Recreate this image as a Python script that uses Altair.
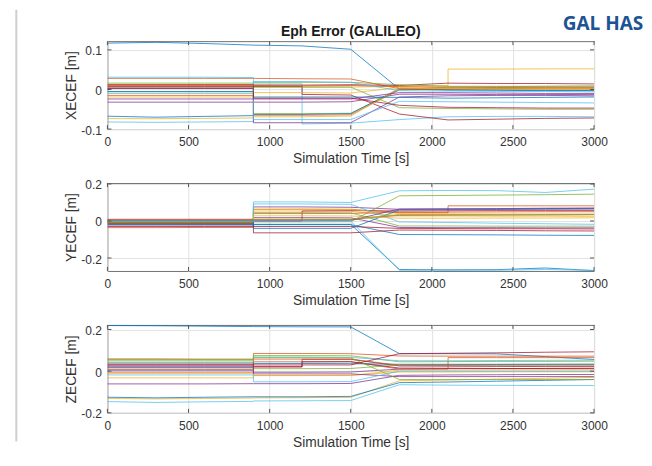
import altair as alt
import pandas as pd

# ---------------- data ----------------
TIMES = [0, 300, 600, 900, 900, 1200, 1200, 1500, 1800, 2100, 2100, 2400, 2700, 3000]
X_TICKS = [0, 500, 1000, 1500, 2000, 2500, 3000]
MATLAB_COLORS = ["#0072BD", "#D95319", "#EDB120", "#7E2F8E", "#77AC30", "#4DBEEE", "#A2142F"]

TITLE = "Eph Error (GALILEO)"
BADGE = "GAL HAS"
X_TITLE = "Simulation Time [s]"

XECEF_TICKS = [-0.1, 0, 0.1]
YECEF_TICKS = [-0.2, 0, 0.2]
ZECEF_TICKS = [-0.2, 0, 0.2]

XECEF = [
    [0.117, 0.119, 0.116, 0.112, 0.112, 0.110, 0.110, 0.1015, 0.001, 0.000, 0.000, -0.001, -0.002, -0.002],
    [0.028, 0.028, 0.028, 0.028, 0.028, 0.027, 0.027, 0.0265, 0.002, 0.003, 0.003, 0.003, 0.002, 0.002],
    [-0.019, -0.019, -0.019, -0.019, 0.006, 0.006, 0.006, 0.006, 0.008, 0.010, 0.0515, 0.0515, 0.052, 0.052],
    [-0.032, -0.032, -0.032, -0.032, -0.032, -0.032, -0.032, -0.031, -0.012, -0.012, -0.012, -0.013, -0.013, -0.0125],
    [0.004, 0.004, 0.004, 0.004, -0.061, -0.061, -0.061, -0.060, 0.000, 0.006, 0.006, 0.007, 0.008, 0.008],
    [-0.082, -0.083, -0.082, -0.081, 0.014, 0.014, -0.087, -0.085, -0.076, -0.069, -0.069, -0.068, -0.068, -0.069],
    [0.0075, 0.0075, 0.0075, 0.0075, 0.0075, 0.0075, -0.0125, -0.014, -0.062, -0.077, -0.077, -0.075, -0.073, -0.072],
    [-0.0675, -0.070, -0.068, -0.066, -0.063, -0.063, -0.063, -0.061, 0.002, -0.002, -0.002, -0.002, -0.003, -0.003],
    [-0.015, -0.015, -0.015, -0.015, -0.065, -0.065, -0.065, -0.064, -0.001, 0.001, 0.001, 0.002, 0.002, 0.002],
    [-0.0735, -0.074, -0.073, -0.072, -0.069, -0.069, -0.069, -0.067, 0.003, 0.004, 0.004, 0.004, 0.003, 0.003],
    [0.003, 0.003, 0.003, 0.003, -0.084, -0.084, -0.084, -0.084, -0.019, -0.016, -0.016, -0.015, -0.015, -0.016],
    [-0.006, -0.006, -0.006, -0.006, 0.006, 0.006, 0.006, 0.006, -0.046, -0.048, -0.048, -0.049, -0.050, -0.050],
    [0.031, 0.031, 0.031, 0.030, -0.076, -0.076, -0.076, -0.076, -0.030, -0.031, -0.031, -0.032, -0.033, -0.034],
    [0.003, 0.003, 0.003, 0.003, 0.011, 0.011, 0.011, 0.012, 0.010, 0.016, 0.016, 0.015, 0.015, 0.014],
    [-0.005, -0.005, -0.005, -0.005, -0.019, -0.019, -0.019, -0.019, -0.020, -0.022, -0.022, -0.021, -0.020, -0.019],
    [0.010, 0.010, 0.010, 0.010, 0.010, 0.009, 0.009, 0.010, 0.007, 0.006, 0.006, 0.005, 0.005, 0.005],
    [0.012, 0.012, 0.012, 0.012, -0.008, -0.008, -0.008, -0.009, 0.005, 0.002, 0.002, 0.001, 0.001, 0.001],
    [-0.024, -0.024, -0.024, -0.024, -0.024, -0.024, -0.024, -0.024, -0.008, -0.008, -0.008, -0.009, -0.010, -0.010],
    [0.016, 0.016, 0.016, 0.016, 0.018, 0.018, 0.018, 0.018, 0.012, 0.008, 0.008, 0.008, 0.008, 0.009],
    [-0.010, -0.010, -0.010, -0.010, 0.020, 0.020, 0.020, 0.018, -0.003, -0.004, -0.004, -0.005, -0.005, -0.006],
    [0.012, 0.012, 0.012, 0.012, -0.022, -0.022, -0.022, -0.022, -0.040, -0.045, -0.045, -0.046, -0.047, -0.047],
]

YECEF = [
    [-0.005, -0.006, -0.006, -0.006, -0.018, -0.018, -0.018, -0.018, -0.262, -0.264, -0.264, -0.263, -0.254, -0.268],
    [-0.036, -0.036, -0.035, -0.035, 0.063, 0.064, 0.064, 0.063, 0.045, 0.045, 0.082, 0.082, 0.082, 0.082],
    [-0.010, -0.010, -0.010, -0.010, 0.054, 0.054, 0.054, 0.052, 0.027, 0.027, 0.027, 0.026, 0.026, 0.025],
    [0.000, 0.000, 0.000, 0.000, 0.076, 0.076, 0.076, 0.074, 0.063, 0.064, 0.064, 0.065, 0.067, 0.068],
    [-0.012, -0.012, -0.012, -0.012, -0.005, -0.005, -0.005, -0.004, 0.136, 0.138, 0.138, 0.140, 0.142, 0.145],
    [-0.020, -0.020, -0.020, -0.020, 0.103, 0.103, 0.103, 0.100, 0.163, 0.165, 0.165, 0.164, 0.154, 0.172],
    [0.009, 0.009, 0.009, 0.009, 0.000, 0.000, 0.054, 0.056, 0.054, 0.055, 0.055, 0.056, 0.056, 0.056],
    [-0.008, -0.008, -0.008, -0.008, -0.020, -0.020, -0.020, -0.020, -0.073, -0.074, -0.074, -0.075, -0.077, -0.078],
    [-0.015, -0.015, -0.015, -0.015, 0.040, 0.040, 0.040, 0.041, 0.048, 0.048, 0.048, 0.049, 0.050, 0.050],
    [-0.012, -0.012, -0.012, -0.012, 0.063, 0.063, 0.063, 0.062, 0.040, 0.039, 0.039, 0.038, 0.038, 0.038],
    [-0.020, -0.020, -0.020, -0.020, 0.018, 0.018, 0.018, 0.017, -0.035, -0.036, -0.036, -0.036, -0.037, -0.037],
    [-0.008, -0.008, -0.008, -0.008, 0.045, 0.045, 0.045, 0.044, -0.027, -0.027, -0.027, -0.028, -0.028, -0.028],
    [-0.025, -0.025, -0.025, -0.025, 0.092, 0.092, 0.092, 0.090, -0.005, -0.008, -0.008, -0.012, -0.015, -0.018],
    [-0.015, -0.015, -0.015, -0.015, -0.064, -0.064, -0.064, -0.064, -0.049, -0.050, -0.050, -0.051, -0.053, -0.054],
    [0.002, 0.002, 0.002, 0.002, -0.040, -0.040, -0.040, -0.040, 0.060, 0.061, 0.061, 0.062, 0.063, 0.064],
    [0.005, 0.005, 0.005, 0.005, 0.008, 0.008, 0.008, 0.008, 0.030, 0.031, 0.031, 0.032, 0.033, 0.034],
    [-0.003, -0.003, -0.003, -0.003, 0.028, 0.028, 0.028, 0.027, 0.015, 0.015, 0.015, 0.016, 0.016, 0.017],
    [-0.004, -0.004, -0.004, -0.004, 0.002, 0.002, 0.002, 0.003, 0.065, 0.066, 0.066, 0.067, 0.069, 0.070],
    [0.000, 0.000, 0.000, 0.000, 0.010, 0.010, 0.010, 0.010, 0.035, 0.035, 0.035, 0.034, 0.034, 0.035],
    [-0.002, -0.002, -0.002, -0.002, 0.000, 0.000, 0.000, 0.000, -0.266, -0.266, -0.266, -0.266, -0.262, -0.267],
    [-0.030, -0.030, -0.030, -0.030, -0.030, -0.030, -0.030, -0.030, -0.040, -0.041, -0.041, -0.042, -0.042, -0.043],
]

ZECEF = [
    [0.219, 0.218, 0.216, 0.214, 0.214, 0.213, 0.213, 0.2125, 0.084, 0.084, 0.084, 0.083, 0.070, 0.056],
    [0.059, 0.059, 0.058, 0.058, 0.085, 0.085, 0.085, 0.084, 0.073, 0.072, 0.072, 0.072, 0.072, 0.072],
    [-0.131, -0.133, -0.131, -0.129, -0.128, -0.127, -0.127, -0.126, -0.046, -0.043, -0.043, -0.038, -0.034, -0.030],
    [-0.061, -0.061, -0.061, -0.060, -0.060, -0.060, -0.060, -0.059, -0.020, -0.018, -0.018, -0.017, -0.016, -0.016],
    [0.056, 0.056, 0.056, 0.056, 0.075, 0.075, 0.075, 0.074, 0.045, 0.046, 0.046, 0.047, 0.047, 0.048],
    [-0.146, -0.150, -0.147, -0.145, -0.143, -0.142, -0.142, -0.141, -0.065, -0.067, -0.067, -0.068, -0.069, -0.069],
    [0.030, 0.030, 0.030, 0.030, 0.021, 0.021, 0.057, 0.057, 0.025, 0.024, 0.024, 0.023, 0.022, 0.022],
    [-0.125, -0.128, -0.125, -0.123, -0.123, -0.123, -0.123, -0.121, -0.055, -0.052, -0.052, -0.048, -0.044, -0.040],
    [0.008, 0.008, 0.008, 0.008, 0.045, 0.045, 0.045, 0.046, 0.010, 0.010, 0.065, 0.065, 0.065, 0.065],
    [-0.032, -0.032, -0.032, -0.032, -0.021, -0.021, -0.021, -0.020, -0.004, -0.004, -0.004, -0.003, -0.003, -0.003],
    [0.002, 0.002, 0.002, 0.002, -0.005, -0.005, -0.005, -0.004, 0.010, 0.012, 0.012, 0.012, 0.013, 0.014],
    [0.040, 0.040, 0.040, 0.040, 0.012, 0.012, 0.012, 0.013, 0.030, 0.031, 0.031, 0.032, 0.033, 0.034],
    [0.043, 0.043, 0.043, 0.043, 0.068, 0.068, 0.068, 0.066, 0.050, 0.050, 0.050, 0.051, 0.052, 0.053],
    [0.020, 0.020, 0.020, 0.020, 0.021, 0.021, 0.045, 0.045, 0.015, 0.014, 0.014, 0.013, 0.012, 0.012],
    [0.016, 0.016, 0.016, 0.016, 0.037, 0.037, 0.037, 0.036, 0.033, 0.033, 0.033, 0.033, 0.033, 0.033],
    [-0.008, -0.008, -0.008, -0.008, 0.058, 0.058, 0.058, 0.058, 0.028, 0.027, 0.027, 0.026, 0.026, 0.026],
    [-0.008, -0.008, -0.008, -0.008, -0.021, -0.021, -0.021, -0.021, 0.005, 0.005, 0.005, 0.006, 0.006, 0.006],
    [0.025, 0.025, 0.025, 0.025, -0.013, -0.013, -0.013, -0.013, -0.026, -0.026, -0.026, -0.026, -0.026, -0.026],
    [0.050, 0.050, 0.050, 0.050, 0.065, 0.065, 0.065, 0.064, -0.040, -0.040, -0.040, -0.040, -0.040, -0.040],
    [-0.018, -0.018, -0.018, -0.018, -0.051, -0.051, -0.051, -0.050, 0.000, 0.000, 0.000, 0.000, 0.000, 0.000],
    [0.034, 0.034, 0.034, 0.034, 0.030, 0.030, 0.030, 0.030, 0.084, 0.086, 0.086, 0.088, 0.091, 0.093],
]

# ---------------- layout / style ----------------
W, H = 487, 88
PLOT_LEFT, PLOT_TOP = 106.7, 39.3      # where the first panel sits on the page
FONT = "Liberation Sans"
TEXT_COLOR = "#333333"
FRAME_COLOR = "#707070"
TICK_COLOR = "#555555"
GRID_COLOR = "#e2e2e2"


def long_df(series):
    rows = []
    for k, vals in enumerate(series):
        for i, (t, v) in enumerate(zip(TIMES, vals)):
            rows.append({"sat": f"S{k:02d}", "i": i, "t": t, "v": v})
    return pd.DataFrame(rows)


def panel(series, ytitle, ydomain, yticks, extras=()):
    df = long_df(series)
    ids = [f"S{k:02d}" for k in range(len(series))]
    cols = [MATLAB_COLORS[k % len(MATLAB_COLORS)] for k in range(len(series))]

    x = alt.X(
        "t:Q",
        scale=alt.Scale(domain=[0, 3000], nice=False, zero=False),
        axis=alt.Axis(values=X_TICKS, title=X_TITLE, format="d", labelFlush=False,
                      labelPadding=7.5, titlePadding=4),
    )
    y = alt.Y(
        "v:Q",
        scale=alt.Scale(domain=ydomain, nice=False, zero=False),
        axis=alt.Axis(values=yticks, title=ytitle, labelPadding=6, titlePadding=2,
                      labelOffset=1, labelFlush=False,
                      labelExpr="datum.value < 0 ? '-' + format(-datum.value, '~g') : format(datum.value, '~g')"),
    )

    lines = alt.Chart(df).mark_line(strokeWidth=1, opacity=0.75, clip=True).encode(
        x=x, y=y,
        color=alt.Color("sat:N", scale=alt.Scale(domain=ids, range=cols), legend=None),
        order=alt.Order("i:Q"),
    )

    xt = pd.DataFrame({"t": X_TICKS})
    yt = pd.DataFrame({"v": yticks})
    tb = alt.Chart(xt).mark_rule(color=TICK_COLOR, strokeWidth=1).encode(
        x=x, y=alt.value(H), y2=alt.value(H - 4))
    tt = alt.Chart(xt).mark_rule(color=TICK_COLOR, strokeWidth=1).encode(
        x=x, y=alt.value(0), y2=alt.value(4))
    tl = alt.Chart(yt).mark_rule(color=TICK_COLOR, strokeWidth=1).encode(
        y=y, x=alt.value(0), x2=alt.value(4))
    tr = alt.Chart(yt).mark_rule(color=TICK_COLOR, strokeWidth=1).encode(
        y=y, x=alt.value(W), x2=alt.value(W - 4))

    layers = [lines, tb, tt, tl, tr] + list(extras)
    return alt.layer(*layers).properties(width=W, height=H)


title_mark = alt.Chart(pd.DataFrame({"label": [TITLE]})).mark_text(
    font=FONT, fontSize=14, fontWeight="bold", color="#1a1a1a",
    align="center", baseline="alphabetic",
).encode(text="label:N", x=alt.value(W / 2), y=alt.value(-5))

badge = alt.Chart(pd.DataFrame({"label": [BADGE]})).mark_text(
    font="Open Sans", fontSize=19, fontWeight="bold", color="#1b5393",
    align="right", baseline="middle",
).encode(text="label:N", x=alt.value(643 - PLOT_LEFT), y=alt.value(22.5 - PLOT_TOP))

shadow = alt.Chart(pd.DataFrame({"a": [0]})).mark_rule(
    color="#cfcfcf", strokeWidth=2
).encode(x=alt.value(15.5 - PLOT_LEFT), y=alt.value(8 - PLOT_TOP), y2=alt.value(440 - PLOT_TOP))

p1 = panel(XECEF, "XECEF [m]", [-0.1, 0.122], XECEF_TICKS, extras=(title_mark, badge, shadow))
p2 = panel(YECEF, "YECEF [m]", [-0.27, 0.205], YECEF_TICKS)
p3 = panel(ZECEF, "ZECEF [m]", [-0.2, 0.222], ZECEF_TICKS)

chart = (
    alt.vconcat(p1, p2, p3, spacing=54, bounds="flush")
    .properties(padding={"left": 6.5, "top": 0, "right": 0, "bottom": 0}, background="white")
    .configure_view(stroke=FRAME_COLOR, strokeWidth=1)
    .configure_axis(
        labelFont=FONT, labelFontSize=12, labelColor=TEXT_COLOR,
        titleFont=FONT, titleFontSize=13.8, titleFontWeight="normal", titleColor=TEXT_COLOR,
        grid=True, gridColor=GRID_COLOR, gridWidth=1,
        domain=False, ticks=False, tickSize=0,
    )
)

chart.save("out.html", embed_options={"renderer": "svg", "actions": False})
